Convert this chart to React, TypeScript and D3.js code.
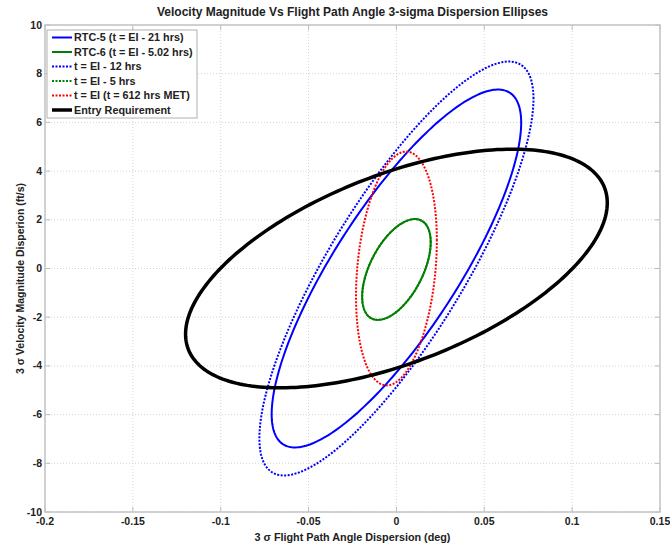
import React from "react";
import * as d3 from "d3";

const seriesNames = [
  "RTC-5 (t = EI - 21 hrs)",
  "RTC-6 (t = EI - 5.02 hrs)",
  "t = EI - 12 hrs",
  "t = EI - 5 hrs",
  "t = EI (t = 612 hrs MET)",
  "Entry Requirement",
];
const seriesColors = ["#0000ff", "#008000", "#0000ff", "#008000", "#ff0000", "#000000"];
const seriesDashed = [false, false, true, true, true, false];
const seriesWidths = [2, 2, 2, 2, 2, 3.5];
// 3-sigma ellipse parameters: centre, extents along each axis, correlation
const centerX = [0, 0, 0, 0, 0, 0];
const centerY = [0, -0.04, 0, -0.04, 0, 0];
const xExtent = [0.071, 0.0195, 0.078, 0.0195, 0.023, 0.12];
const yExtent = [7.35, 2.07, 8.5, 2.07, 4.8, 4.9];
const correlation = [0.814, 0.54, 0.82, 0.54, 0.24, 0.55];

const xTicks = [-0.2, -0.15, -0.1, -0.05, 0, 0.05, 0.1, 0.15];
const yTicks = [-10, -8, -6, -4, -2, 0, 2, 4, 6, 8, 10];

const W = 670, H = 544;
const L = 45, R = 660, T = 25, B = 512;
const FONT = "'Liberation Sans', Arial, Helvetica, sans-serif";

export default function App() {
  const x = d3.scaleLinear().domain([-0.2, 0.15]).range([L, R]);
  const y = d3.scaleLinear().domain([-10, 10]).range([B, T]);
  const line = d3.line<[number, number]>().x(d => x(d[0])).y(d => y(d[1])).curve(d3.curveLinearClosed);

  const ellipse = (i: number) => {
    const n = 240;
    const rho = correlation[i];
    const s = Math.sqrt(1 - rho * rho);
    return d3.range(n).map(k => {
      const t = (2 * Math.PI * k) / n;
      return [
        centerX[i] + xExtent[i] * Math.cos(t),
        centerY[i] + yExtent[i] * (rho * Math.cos(t) + s * Math.sin(t)),
      ] as [number, number];
    });
  };

  const fmt = (v: number) => String(v);

  return (
    <svg width={W} height={H} style={{ position: "absolute", left: 0, top: 0, background: "#fff" }} fontFamily={FONT}>
      <rect x={0} y={0} width={W} height={H} fill="#fff" />
      <defs>
        <clipPath id="plotclip">
          <rect x={L} y={T} width={R - L} height={B - T} />
        </clipPath>
      </defs>
      {/* grid */}
      {xTicks.map(v => (
        <line key={"gx" + v} x1={x(v)} x2={x(v)} y1={T} y2={B} stroke="#d4d4d4" strokeWidth={1} strokeDasharray="1,2" />
      ))}
      {yTicks.map(v => (
        <line key={"gy" + v} x1={L} x2={R} y1={y(v)} y2={y(v)} stroke="#d4d4d4" strokeWidth={1} strokeDasharray="1,2" />
      ))}
      {/* ticks */}
      {xTicks.map(v => (
        <g key={"tx" + v}>
          <line x1={x(v)} x2={x(v)} y1={B} y2={B - 5} stroke="#bdbdbd" />
          <line x1={x(v)} x2={x(v)} y1={T} y2={T + 5} stroke="#bdbdbd" />
          <text x={x(v)} y={525} textAnchor="middle" fontSize={10.5} fontWeight="bold" fill="#222">{fmt(v)}</text>
        </g>
      ))}
      {yTicks.map(v => (
        <g key={"ty" + v}>
          <line x1={L} x2={L + 5} y1={y(v)} y2={y(v)} stroke="#bdbdbd" />
          <line x1={R} x2={R - 5} y1={y(v)} y2={y(v)} stroke="#bdbdbd" />
          <text x={42} y={y(v) + 3.5} textAnchor="end" fontSize={10.5} fontWeight="bold" fill="#222">{fmt(v)}</text>
        </g>
      ))}
      {/* ellipses */}
      <g clipPath="url(#plotclip)">
        {seriesNames.map((name, i) => (
          <path key={name} d={line(ellipse(i)) || ""} fill="none" stroke={seriesColors[i]}
            strokeWidth={seriesWidths[i]} strokeDasharray={seriesDashed[i] ? "2,1.5" : undefined} />
        ))}
      </g>
      {/* axes box */}
      <rect x={L} y={T} width={R - L} height={B - T} fill="none" stroke="#c4c4c4" strokeWidth={1.5} />
      {/* title */}
      <text x={(L + R) / 2} y={16} textAnchor="middle" fontSize={12} fontWeight="bold" fill="#222">
        Velocity Magnitude Vs Flight Path Angle 3-sigma Dispersion Ellipses
      </text>
      <text x={(L + R) / 2} y={541} textAnchor="middle" fontSize={10.8} fontWeight="bold" fill="#222">
        3 σ Flight Path Angle Dispersion (deg)
      </text>
      <text transform={`translate(24,${(T + B) / 2 + 10}) rotate(-90)`} textAnchor="middle" fontSize={10.5} fontWeight="bold" fill="#222">
        3 σ Velocity Magnitude Disperion (ft/s)
      </text>
      {/* legend */}
      <g>
        <rect x={47} y={30} width={150} height={88} fill="#fff" stroke="#b0b0b0" strokeWidth={1} />
        {seriesNames.map((name, i) => {
          const yy = 37.5 + i * 14.5;
          return (
            <g key={"lg" + name}>
              <line x1={52} x2={72} y1={yy} y2={yy} stroke={seriesColors[i]} strokeWidth={seriesWidths[i]}
                strokeDasharray={seriesDashed[i] ? "2,1.5" : undefined} />
              <text x={74} y={yy + 3.8} fontSize={10.8} fontWeight="bold" fill="#222">{name}</text>
            </g>
          );
        })}
      </g>
    </svg>
  );
}
